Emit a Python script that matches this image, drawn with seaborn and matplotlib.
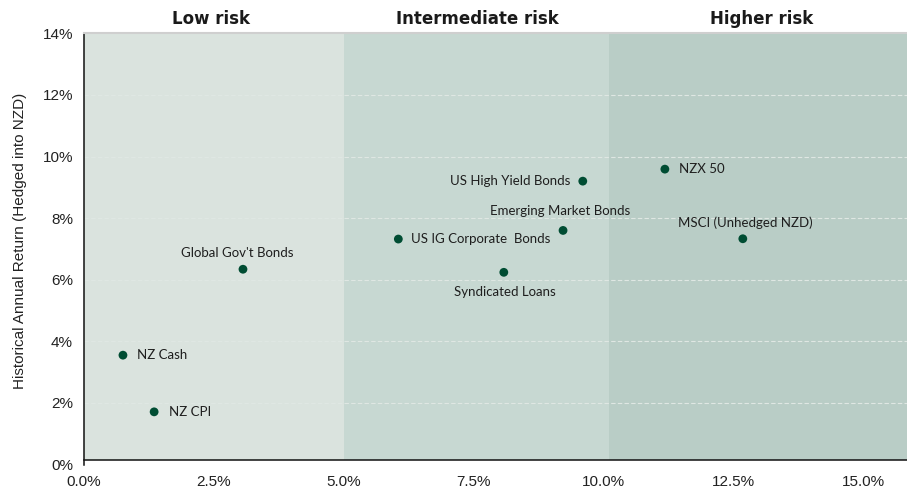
import pandas as pd
import seaborn as sns
import matplotlib.pyplot as plt
from matplotlib.ticker import FuncFormatter

# risk (x, %) vs historical annual return (y, %)
assets = ["NZ Cash", "NZ CPI", "Global Gov't Bonds", "US IG Corporate  Bonds",
          "Syndicated Loans", "Emerging Market Bonds", "US High Yield Bonds",
          "NZX 50", "MSCI (Unhedged NZD)"]
risk = [0.75, 1.35, 3.06, 6.05, 8.08, 9.22, 9.60, 11.18, 12.68]
ret = [3.55, 1.71, 6.34, 7.32, 6.24, 7.60, 9.20, 9.59, 7.33]

zones = ["Low risk", "Intermediate risk", "Higher risk"]
zone_edges = [0, 5.0, 10.1, 15.84]
zone_colors = ["#dae3de", "#c7d8d2", "#b9cdc6"]

df = pd.DataFrame({"asset": assets, "risk": risk, "ret": ret})

sns.set_style("white")
plt.rcParams['font.family'] = ['Liberation Sans', 'DejaVu Sans']

fig = plt.figure(figsize=(9.07, 4.95), dpi=100)
ax = fig.add_axes([0.0926, 0.0616, 1 - 0.0926, 0.9327 - 0.0616])

x_end = zone_edges[-1]
ax.set_xlim(0, x_end)
ax.set_ylim(0, 14)

spine_y = 0.16
for i, name in enumerate(zones):
    ax.axvspan(zone_edges[i], zone_edges[i + 1], ymin=spine_y / 14, ymax=1,
               color=zone_colors[i], lw=0, zorder=0)

centers = [2.45, 7.57, 13.05]
for c, name in zip(centers, zones):
    ax.text(c, 14.18, name, ha='center', va='bottom', fontsize=12,
            fontweight='bold', color='#1a1a1a', family='DejaVu Sans')

for yv in range(2, 14, 2):
    ax.axhline(yv, color='#dfe7e3', lw=0.8, ls=(0, (4, 2)), zorder=1)

sns.scatterplot(data=df, x="risk", y="ret", ax=ax, color="#004d33", s=40,
                edgecolor="none", zorder=3, legend=False)

# label offsets in points: (dx, dy, ha, va)
offsets = {
    "NZ Cash": (10, 0, 'left', 'center'),
    "NZ CPI": (11, 0, 'left', 'center'),
    "Global Gov't Bonds": (-4, 12, 'center', 'center'),
    "US IG Corporate  Bonds": (9, 0, 'left', 'center'),
    "Syndicated Loans": (1, -14, 'center', 'center'),
    "Emerging Market Bonds": (-2, 14, 'center', 'center'),
    "US High Yield Bonds": (-9, 0, 'right', 'center'),
    "NZX 50": (10, 0, 'left', 'center'),
    "MSCI (Unhedged NZD)": (2, 11.5, 'center', 'center'),
}
for a, xv, yv in zip(assets, risk, ret):
    dx, dy, ha, va = offsets[a]
    ax.annotate(a, (xv, yv), xytext=(dx, dy), textcoords='offset points',
                ha=ha, va=va, fontsize=9.5, color='#1e1e1e',
                family=['Lato', 'DejaVu Sans'])

ax.set_xticks([0, 2.5, 5, 7.5, 10, 12.5, 15])
ax.set_yticks(range(0, 15, 2))
ax.xaxis.set_major_formatter(FuncFormatter(lambda v, p: f"{v:.1f}%"))
ax.yaxis.set_major_formatter(FuncFormatter(lambda v, p: f"{v:.0f}%"))
ax.tick_params(axis='both', direction='out', length=5, width=1, color='#222222',
               labelsize=11, labelcolor='#222222')
ax.tick_params(axis='x', pad=6)
ax.tick_params(axis='y', pad=3)
ax.set_xlabel("")
ax.set_ylabel("Historical Annual Return (Hedged into NZD)", fontsize=11,
              color='#222222')
ax.yaxis.set_label_coords(-0.069, 0.518)

ax.spines['bottom'].set_position(('data', spine_y))
ax.spines['bottom'].set_color('#111111')
ax.spines['left'].set_color('#111111')
ax.spines['left'].set_linewidth(1.1)
ax.spines['bottom'].set_linewidth(1.1)
ax.spines['top'].set_color('#cfcfcf')
ax.spines['top'].set_linewidth(1.5)
ax.spines['right'].set_visible(False)

fig.savefig("out.png", dpi=100)
